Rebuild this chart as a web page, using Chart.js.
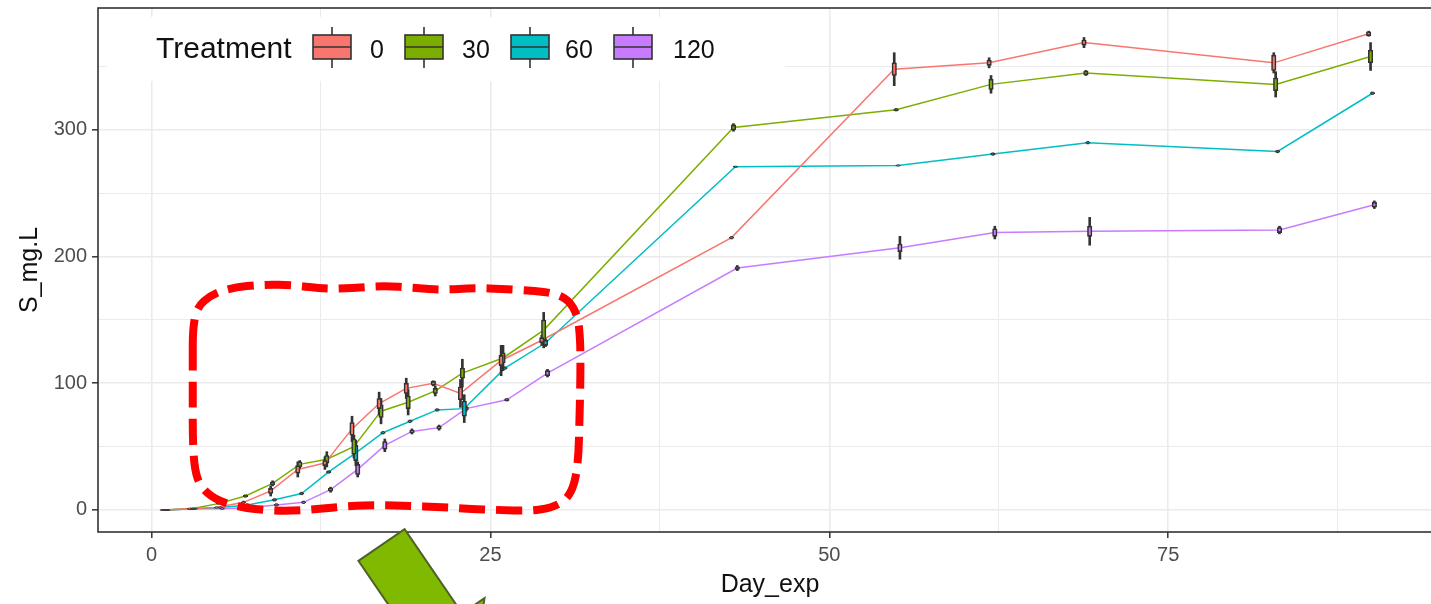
<!DOCTYPE html>
<html>
<head>
<meta charset="utf-8">
<script src="https://cdn.jsdelivr.net/npm/chart.js@4.4.0/dist/chart.umd.min.js"></script>
<style>
html,body{margin:0;padding:0;background:#fff;overflow:hidden;}
#wrap{position:relative;width:1446px;height:604px;}
</style>
</head>
<body>
<div id="wrap"><canvas id="chart" width="1446" height="604"></canvas></div>
<script>
// sampling days
const DAYS = [1,3,5,7,9,11,13,15,17,19,21,23,26,29,43,55,62,69,83,90];
const TREATMENTS = ["0","30","60","120"];
const COLORS = ["#F8766D","#7CAE00","#00BFC4","#C77CFF"];

// medians (S_mg.L) per treatment
const S_0   = [0,1,2,6,15,32,37,64,84,96,100,92,118,134,215,348,353,369,353,376];
const S_30  = [0,1,5,11,21,36,40,50,78,85,94,108,120,142,302,316,336,345,336,358];
const S_60  = [0,1,2,4,8,13,30,45,61,70,79,80,112,132,271,272,281,290,283,329];
const S_120 = [0,1,1,2,4,6,16,32,51,62,65,80,87,108,191,207,219,220,221,241];

// whisker half range
const W_0   = [0.5,0.5,0.5,1,4,6,5,10,9,8,2,11,12,4,1,13,4,4,8,2];
const W_30  = [0.5,0.5,0.5,1,2,3,6,9,10,10,4,11,10,14,3,1,7,2,10,11];
const W_60  = [0.5,0.5,0.5,1,1,1,1,10,1,1,1,11,1,3,0.5,0.5,1,1,1,1];
const W_120 = [0.5,0.5,0.5,1,1,1,2,6,5,2,2,2,1,3,2,9,5,11,3,3];

// box half range
const B_0   = [0.3,0.3,0.3,0.5,2,3,2,5,4,4,1.5,5,4,2,0.5,5,2,2,6,1.5];
const B_30  = [0.3,0.3,0.3,0.5,1,2,3,6,5,5,2,4,4,8,2,0.7,4,1.5,5,5];
const B_60  = [0.3,0.3,0.3,0.5,0.5,0.5,0.5,6,0.5,0.5,0.5,6,0.5,2,0.3,0.3,0.5,0.5,0.5,0.5];
const B_120 = [0.3,0.3,0.3,0.5,0.5,0.5,1,4,3,1,1,1,0.7,2,1,3,3,4,2,2];

const X_TICKS = [0,12.5,25,37.5,50,62.5,75,87.5];
const Y_TICKS = [0,50,100,150,200,250,300,350];

const MED = [S_0,S_30,S_60,S_120];
const WHI = [W_0,W_30,W_60,W_120];
const BOX = [B_0,B_30,B_60,B_120];
const DODGE = [-0.21,-0.07,0.07,0.21];

// red highlight outline, in (day, value)
const OUTLINE = [[3.04,142],[3.33,160],[4.43,170],[5.9,175.5],[8.18,178],[10.54,177.5],[12.74,174.5],
  [14.95,175.3],[17.15,177],[19.36,175.3],[21.57,173.7],[23.77,175.3],[25.99,174.5],[28.18,172.9],
  [29.65,171.3],[30.76,165.8],[31.43,153.9],[31.64,134],[31.64,103],[31.57,71],[31.49,40],[31.2,20],
  [30.61,8],[29.51,1.6],[27.82,-0.8],[25.6,0],[23.4,0.8],[21.2,2.4],[18.99,3.2],[16.79,3.9],[14.58,3.2],
  [12.38,0.8],[10.17,-0.8],[7.96,0],[6.13,3.2],[4.65,8.7],[3.62,18.2],[3.18,31.6],[3.04,55],[3.04,87],[3.04,118]];

const datasets = [];
TREATMENTS.forEach((t,i)=>{
  datasets.push({
    type:"line", label:t, order:3,
    data:DAYS.map((d,j)=>({x:d+DODGE[i], y:MED[i][j]})),
    borderColor:COLORS[i], borderWidth:1.5, pointRadius:0, tension:0
  });
  datasets.push({
    type:"bar", label:t+" whisker", order:2, grouped:false,
    data:DAYS.map((d,j)=>({x:d+DODGE[i], y:[MED[i][j]-WHI[i][j], MED[i][j]+WHI[i][j]]})),
    backgroundColor:"#333333", barThickness:2
  });
  datasets.push({
    type:"bar", label:t+" box", order:1, grouped:false,
    data:DAYS.map((d,j)=>({x:d+DODGE[i], y:[MED[i][j]-BOX[i][j], MED[i][j]+BOX[i][j]]})),
    backgroundColor:COLORS[i], borderColor:"#333333", borderWidth:1.6, borderSkipped:false, barThickness:4.5
  });
});

const FONT = "'Liberation Sans', Arial, sans-serif";
Chart.defaults.font.family = FONT;

const tickVal = c => (c && c.tick) ? c.tick.value : NaN;
const isMajorX = v => v % 25 === 0;
const isMajorY = v => v % 100 === 0;
const noPad = s => { s.paddingTop = 0; s.paddingBottom = 0; s.paddingLeft = 0; s.paddingRight = 0; };

const overlay = {
  id:"overlay",
  afterDraw(chart){
    const {ctx, chartArea:a, scales:{x,y}} = chart;
    ctx.save();
    // legend
    ctx.fillStyle="#fff";
    ctx.fillRect(107,17,678,64);
    ctx.fillStyle="#111"; ctx.textBaseline="middle"; ctx.textAlign="left";
    ctx.font="30px "+FONT;
    ctx.fillText("Treatment",156,50);
    const keyX=[313,405,511,614], labX=[370,462,565,673];
    ctx.font="25px "+FONT;
    TREATMENTS.forEach((t,i)=>{
      const kx=keyX[i], cx=kx+19;
      ctx.strokeStyle="#333333"; ctx.lineWidth=1.6;
      ctx.beginPath(); ctx.moveTo(cx,27); ctx.lineTo(cx,68); ctx.stroke();
      ctx.fillStyle=COLORS[i];
      ctx.fillRect(kx,35,38,24); ctx.strokeRect(kx,35,38,24);
      ctx.beginPath(); ctx.moveTo(kx,47); ctx.lineTo(kx+38,47); ctx.stroke();
      ctx.fillStyle="#111";
      ctx.fillText(t,labX[i],51);
    });

    // panel border
    ctx.strokeStyle="#333333"; ctx.lineWidth=1.6;
    ctx.strokeRect(a.left, a.top, a.right-a.left, a.bottom-a.top);

    // red dashed highlight
    const P = OUTLINE.map(([d,v])=>[x.getPixelForValue(d), y.getPixelForValue(v)]);
    const n=P.length, mid=(p,q)=>[(p[0]+q[0])/2,(p[1]+q[1])/2];
    ctx.beginPath();
    const m0=mid(P[n-1],P[0]);
    ctx.moveTo(m0[0],m0[1]);
    for(let i=0;i<n;i++){
      const p=P[i], m=mid(p,P[(i+1)%n]);
      ctx.quadraticCurveTo(p[0],p[1],m[0],m[1]);
    }
    ctx.closePath();
    ctx.setLineDash([26,11]);
    ctx.lineWidth=8; ctx.strokeStyle="#FF0000";
    ctx.stroke();
    ctx.setLineDash([]);

    // green arrow
    const arrow=[[358.4,560.8],[404.6,529.2],[462.2,613.4],[484.5,598.1],[473,678.7],[393.7,660.3],[416,645]];
    ctx.beginPath();
    arrow.forEach((p,i)=> i? ctx.lineTo(p[0],p[1]) : ctx.moveTo(p[0],p[1]));
    ctx.closePath();
    ctx.fillStyle="#7FBA00"; ctx.fill();
    ctx.strokeStyle="#4F6228"; ctx.lineWidth=2; ctx.stroke();
    ctx.restore();
  }
};

new Chart(document.getElementById("chart"),{
  type:"line",
  data:{datasets},
  options:{
    responsive:false, animation:false,
    layout:{padding:{left:0,top:8,right:4,bottom:0}},
    plugins:{legend:{display:false}, tooltip:{enabled:false}},
    scales:{
      x:{
        type:"linear", offset:false, min:-3.95, max:95.2,
        afterBuildTicks:s=>{ s.ticks=X_TICKS.map(v=>({value:v})); },
        afterFit:s=>{ s.height=72; noPad(s); },
        border:{display:false},
        grid:{
          offset:false,
          color:"#EBEBEB",
          lineWidth:c=>isMajorX(tickVal(c))?1.6:1,
          tickLength:6, tickWidth:1.5,
          tickColor:c=>isMajorX(tickVal(c))?"#333333":"rgba(0,0,0,0)"
        },
        ticks:{
          autoSkip:false, maxRotation:0, padding:5, color:"#4D4D4D",
          font:{size:20},
          callback:v=>isMajorX(v)?String(v):""
        },
        title:{display:true, text:"Day_exp", color:"#111", font:{size:25}, padding:{top:0,bottom:4}}
      },
      y:{
        type:"linear", min:-17.4, max:396.3,
        afterBuildTicks:s=>{ s.ticks=Y_TICKS.map(v=>({value:v})); },
        afterFit:s=>{ s.width=98; noPad(s); },
        border:{display:false},
        grid:{
          offset:false,
          color:"#EBEBEB",
          lineWidth:c=>isMajorY(tickVal(c))?1.6:1,
          tickLength:6, tickWidth:1.5,
          tickColor:c=>isMajorY(tickVal(c))?"#333333":"rgba(0,0,0,0)"
        },
        ticks:{
          autoSkip:false, padding:5, color:"#4D4D4D",
          font:{size:20},
          callback:v=>isMajorY(v)?String(v):""
        },
        title:{display:true, text:"S_mg.L", color:"#111", font:{size:25}, padding:{top:15,bottom:0}}
      }
    }
  },
  plugins:[overlay]
});
</script>
</body>
</html>
